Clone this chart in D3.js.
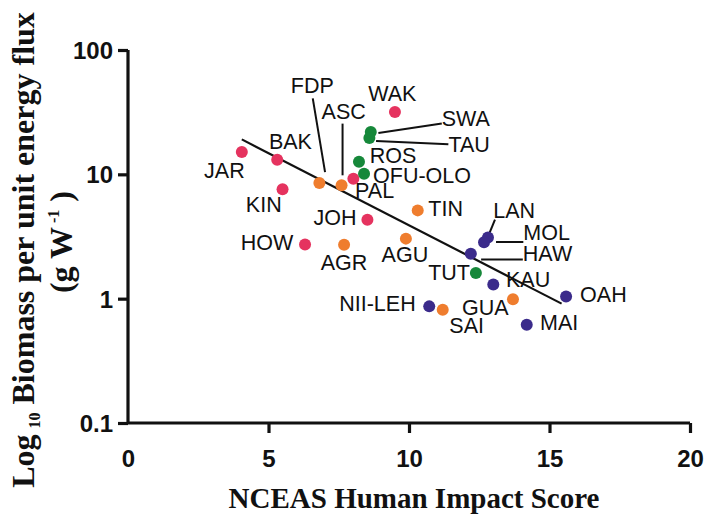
<!DOCTYPE html>
<html>
<head>
<meta charset="utf-8">
<script src="https://cdn.jsdelivr.net/npm/d3@7"></script>
<style>
  html, body { margin: 0; padding: 0; background: #fff; }
  svg { display: block; }
</style>
</head>
<body>
<svg id="chart" width="706" height="517"></svg>
<script>
// Reef sites, NCEAS human impact score and biomass per unit energy flux (g W^-1)
const sites   = ["JAR","BAK","KIN","FDP","ASC","PAL","ROS","OFU-OLO","WAK","SWA","TAU","JOH","HOW","AGR","AGU","TIN","LAN","MOL","HAW","TUT","KAU","GUA","OAH","NII-LEH","SAI","MAI"];
const scores  = [4.05, 5.31, 5.50, 6.81, 7.60, 8.02, 8.22, 8.40, 9.50, 8.64, 8.59, 8.52, 6.30, 7.69, 9.89, 10.31, 12.81, 12.67, 12.20, 12.38, 13.00, 13.70, 15.59, 10.72, 11.20, 14.19];
const biomass = [15.1, 13.1, 7.57, 8.51, 8.16, 9.23, 12.6, 10.1, 31.7, 21.9, 19.6, 4.32, 2.73, 2.72, 3.04, 5.13, 3.11, 2.84, 2.30, 1.61, 1.30, 0.99, 1.04, 0.867, 0.816, 0.618];
const regions = ["PRIA","PRIA","PRIA","MARI","MARI","PRIA","AMSA","AMSA","PRIA","AMSA","AMSA","PRIA","PRIA","MARI","MARI","MARI","MHI","MHI","MHI","AMSA","MHI","MARI","MHI","MHI","MARI","MHI"];

// Fitted trend line end points
const fitX = [4.05, 15.43];
const fitY = [19.1, 0.912];

// Axis ticks
const xTicks = [0, 5, 10, 15, 20];
const yTicks = [0.1, 1, 10, 100];
const yTickLabels = ["0.1", "1", "10", "100"];

// Layout: label offsets (dx, dy from the dot) and optional leader lines
const labelOffsets = {
  "JAR": [-37.7, 25.6], "BAK": [-8.3, -11], "KIN": [-36.7, 22.7],
  "FDP": [-28.6, -90.4], "ASC": [-20, -66.7], "PAL": [1.7, 19],
  "ROS": [10.7, 1.5], "OFU-OLO": [9, 9.2], "WAK": [-26.7, -11],
  "SWA": [71, -5.7], "TAU": [79, 14], "JOH": [-54, 5.7],
  "HOW": [-64.3, 6], "AGR": [-23.3, 25], "AGU": [-24.3, 23.4],
  "TIN": [10.6, 6], "LAN": [5.3, -19.7], "MOL": [39.3, -2],
  "HAW": [52, 7.7], "TUT": [-47.7, 6.6], "KAU": [12.7, 2.4],
  "GUA": [-51, 16], "OAH": [14, 5.7], "NII-LEH": [-90, 5],
  "SAI": [6.6, 23.4], "MAI": [13.3, 5]
};
const leaders = {
  "FDP": [[-6.6, -84.7], [5.7, -11]],
  "ASC": [[1, -61.7], [1, -10]],
  "SWA": [[7.6, 1], [71, -8.4]],
  "TAU": [[6.7, 3], [79, 6.3]],
  "LAN": [[7, -17.7], [1.3, -3.7]],
  "MOL": [[12, -0.3], [39.3, -0.3]],
  "HAW": [[10.3, 5.7], [52, 5.7]]
};

const regionColor = d3.scaleOrdinal()
  .domain(["PRIA", "MARI", "AMSA", "MHI"])
  .range(["#e5335f", "#ef7d2e", "#16883a", "#3b2b8b"]);

const svg = d3.select("#chart");

const x = d3.scaleLinear().domain([0, 20]).range([128, 690]);
const y = d3.scaleLog().domain([0.1, 100]).range([423, 50]);

const data = sites.map((s, i) => ({ site: s, score: scores[i], biomass: biomass[i], region: regions[i] }));

// Axes
const xAxis = svg.append("g")
  .attr("transform", `translate(0,${y(0.1)})`)
  .call(d3.axisBottom(x).tickValues(xTicks).tickSize(10).tickSizeOuter(0).tickPadding(17));
const yAxis = svg.append("g")
  .attr("transform", `translate(${x(0)},0)`)
  .call(d3.axisLeft(y).tickValues(yTicks).tickFormat((d, i) => yTickLabels[i]).tickSize(10).tickSizeOuter(0).tickPadding(5));

[xAxis, yAxis].forEach(g => {
  g.select(".domain").attr("stroke", "#111").attr("stroke-width", 3.2);
  g.selectAll(".tick line").attr("stroke", "#111").attr("stroke-width", 3.2);
  g.selectAll(".tick text")
    .attr("fill", "#111")
    .style("font-family", "'Liberation Sans', Arial, sans-serif")
    .style("font-weight", "bold")
    .style("font-size", "24px");
});
xAxis.select(".domain").attr("d", `M${x(0)},0H${x(20)}`);
yAxis.select(".domain").attr("d", `M0,${y(100)}V${y(0.1)}`);
xAxis.selectAll(".tick").filter(d => d === 0).select("line").remove();
yAxis.selectAll(".tick text").attr("dy", "0.36em");

// Axis titles
svg.append("text")
  .attr("x", 414).attr("y", 508)
  .attr("text-anchor", "middle")
  .style("font-family", "'Liberation Serif', 'Times New Roman', serif")
  .style("font-weight", "bold")
  .style("font-size", "29px")
  .attr("fill", "#111")
  .text("NCEAS Human Impact Score");

const yt = svg.append("g")
  .attr("transform", "translate(34,250) rotate(-90)")
  .style("font-family", "'Liberation Serif', 'Times New Roman', serif")
  .style("font-weight", "bold")
  .attr("fill", "#111");
const t1 = yt.append("text").attr("text-anchor", "middle").style("font-size", "32px");
t1.append("tspan").text("Log");
t1.append("tspan").text("10").style("font-size", "16px").attr("dx", 6).attr("dy", 6);
t1.append("tspan").text(" Biomass per unit energy flux").attr("dy", -6);
const t2 = yt.append("text").attr("text-anchor", "middle").attr("x", 8).attr("y", 38).style("font-size", "32px");
t2.append("tspan").text("(g W");
t2.append("tspan").text("-1").style("font-size", "16px").attr("dx", 4).attr("dy", -13);
t2.append("tspan").text(" )").attr("dy", 13);

// Trend line
svg.append("line")
  .attr("x1", x(fitX[0])).attr("y1", y(fitY[0]))
  .attr("x2", x(fitX[1])).attr("y2", y(fitY[1]))
  .attr("stroke", "#111").attr("stroke-width", 2.2);

// Leader lines
svg.append("g").selectAll("line")
  .data(data.filter(d => leaders[d.site]))
  .join("line")
  .attr("x1", d => x(d.score) + leaders[d.site][0][0])
  .attr("y1", d => y(d.biomass) + leaders[d.site][0][1])
  .attr("x2", d => x(d.score) + leaders[d.site][1][0])
  .attr("y2", d => y(d.biomass) + leaders[d.site][1][1])
  .attr("stroke", "#111").attr("stroke-width", 2);

// Points
svg.append("g").selectAll("circle")
  .data(data)
  .join("circle")
  .attr("cx", d => x(d.score))
  .attr("cy", d => y(d.biomass))
  .attr("r", 6)
  .attr("fill", d => regionColor(d.region));

// Site labels
svg.append("g").selectAll("text")
  .data(data)
  .join("text")
  .attr("x", d => x(d.score) + labelOffsets[d.site][0])
  .attr("y", d => y(d.biomass) + labelOffsets[d.site][1])
  .style("font-family", "'Liberation Sans', Arial, sans-serif")
  .style("font-size", "21.5px")
  .attr("fill", "#111")
  .text(d => d.site);
</script>
</body>
</html>
